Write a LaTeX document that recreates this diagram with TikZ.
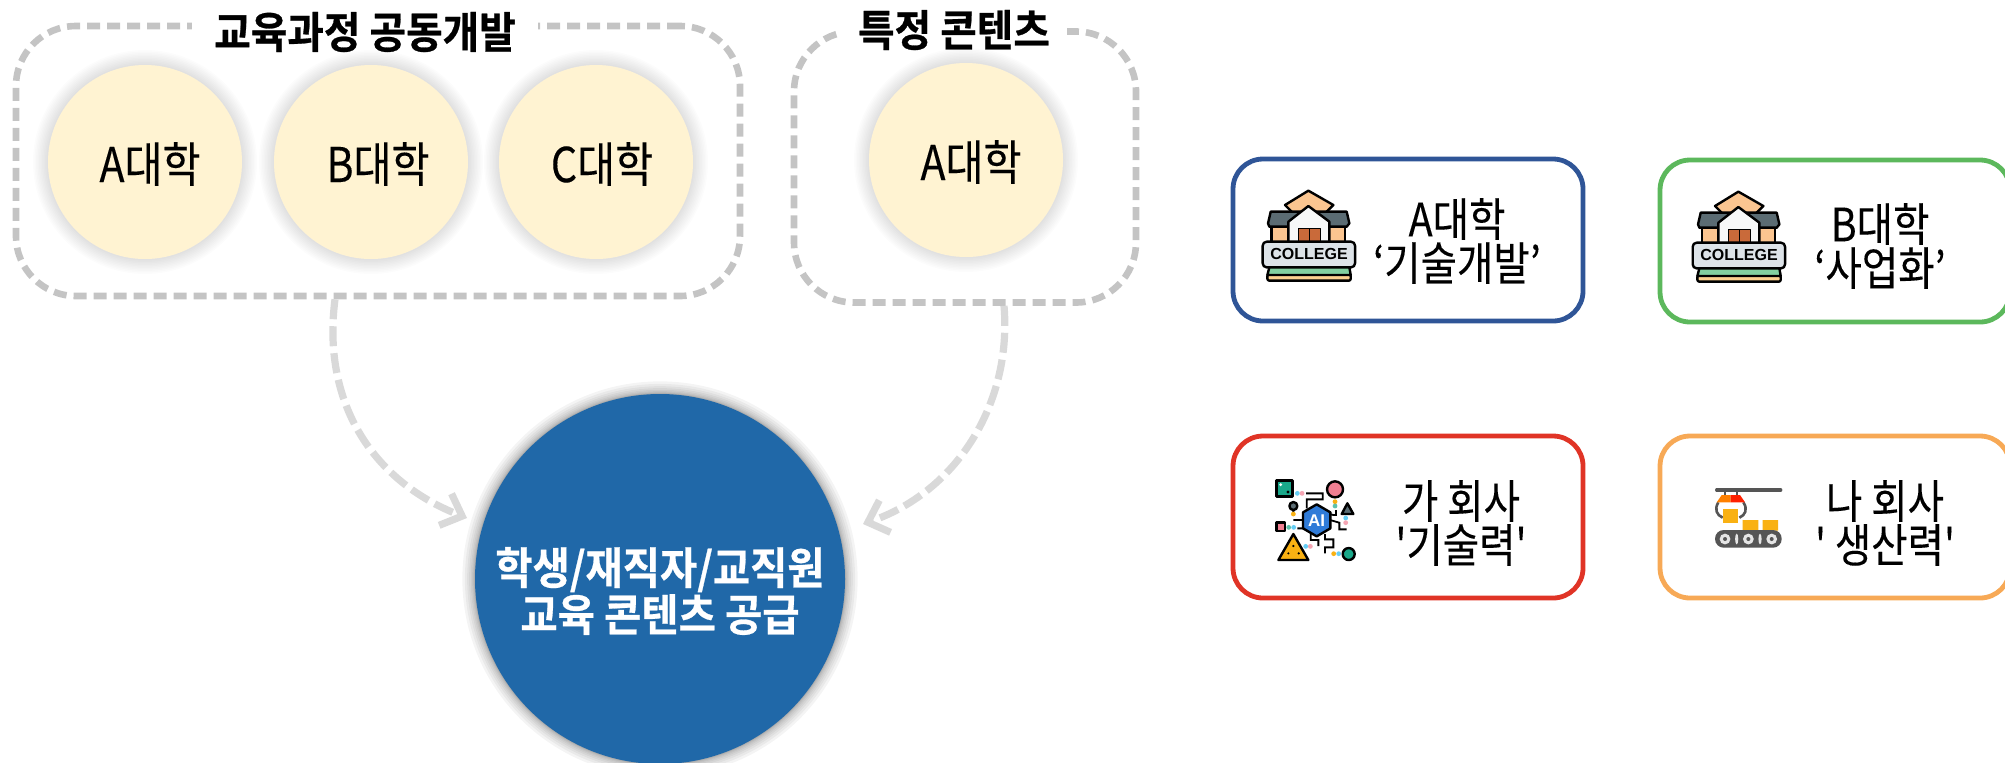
\documentclass[tikz,border=0pt]{standalone}
\usepackage{fontspec}
\usetikzlibrary{arrows.meta,calc}
\setmainfont{Liberation Sans}
\newfontfamily\krn[FakeStretch=0.86,FakeBold=0.2]{Noto Sans CJK KR}
\newfontfamily\krb[FakeStretch=0.92,FakeBold=0.6]{Noto Sans CJK KR Bold}
\definecolor{hubblue}{HTML}{2068A8}
\definecolor{cream}{HTML}{FFF3D2}
\definecolor{dashgrey}{HTML}{C4C4C4}
\definecolor{flowgrey}{HTML}{D9D9D9}
\definecolor{navy}{HTML}{2F5597}
\definecolor{leaf}{HTML}{5CB85C}
\definecolor{crimson}{HTML}{E03426}
\definecolor{amber}{HTML}{F7A956}
\definecolor{icoorange}{HTML}{FBC590}
\definecolor{icoslate}{HTML}{5B6C73}
\definecolor{icodoor}{HTML}{C96A3A}
\definecolor{icogreen}{HTML}{82CFA0}
\definecolor{icotan}{HTML}{FBD08F}
\definecolor{icoplate}{HTML}{DDE3E8}
\definecolor{icoteal}{HTML}{1AA88A}
\definecolor{icopink}{HTML}{F07F92}
\definecolor{icoyellow}{HTML}{F9B113}
\definecolor{icoblue}{HTML}{2F7BD8}
\definecolor{belt}{HTML}{555555}
\tikzset{
  groupbox/.style={draw=dashgrey,line width=3.3pt,dash pattern=on 6.5pt off 3.5pt,rounded corners=30pt,inner sep=0pt},
  grouptitle/.style={fill=white,font=\krb\fontsize{21.6}{24}\selectfont,inner sep=0pt,minimum height=16pt},
  uni/.style={circle,fill=cream,minimum size=97pt,inner sep=0pt},
  unitext/.style={font=\krn\fontsize{24}{26}\selectfont},
  hubnode/.style={circle,fill=hubblue,minimum size=185pt,inner sep=0pt},
  hubtext/.style={white,align=center,font=\krb\fontsize{22}{22}\selectfont},
  partner/.style={draw,fill=white,line width=2.4pt,rounded corners=15pt,minimum width=175pt,minimum height=81pt,inner sep=0pt},
  partnertext/.style={align=center,font=\krn\fontsize{23}{22}\selectfont},
  flow/.style={draw=flowgrey,line width=3.6pt,dash pattern=on 10pt off 3.5pt,-{Straight Barb[length=9pt,width=17pt,line width=3.6pt]}},
  ico/.style={draw=black,line width=1.2pt,line join=round},
}
\newcommand{\glow}[2]{% centre, radius
  \foreach \k in {1,...,10}{\fill[black,opacity=0.010] (#1) circle ({#2+\k*1.5});}}
\newcommand{\collegeicon}[2]{%
  \begin{scope}[shift={(#1,#2)},x=0.1667pt,y=-0.1667pt]
    \filldraw[ico,fill=icoorange] (165,45)--(235,2)--(310,45)--(285,70)--(190,70)--cycle;
    \filldraw[ico,fill=icoorange] (125,105) rectangle (345,158);
    \filldraw[ico,fill=icoslate] (122,65)--(350,65)--(358,100)--(350,110)--(118,110)--(114,100)--cycle;
    \filldraw[ico,fill=white!95!icoslate] (175,95)--(235,48)--(298,95)--(298,158)--(175,158)--cycle;
    \filldraw[ico,line width=0.5pt,fill=icodoor] (205,115) rectangle (270,158);
    \draw[black,line width=0.5pt] (237,115)--(237,158);
    \filldraw[ico,fill=icoplate,rounded corners=2pt] (98,155) rectangle (375,232);
    \node[font=\bfseries\fontsize{8}{9}\selectfont,inner sep=0pt] at (237,193) {COLLEGE};
    \filldraw[ico,fill=icotan,rounded corners=1pt] (112,253) rectangle (362,272);
    \filldraw[ico,fill=icogreen] (118,232)--(358,232)--(362,255)--(112,255)--cycle;
  \end{scope}}
\newcommand{\aiicon}[2]{%
  \begin{scope}[shift={(#1,#2)},x=0.1667pt,y=-0.1667pt]
    \draw[black,line width=0.9pt]
      (168,100)--(218,100)--(218,118)--(170,118)--(170,145)
      (130,150)--(130,158) (158,180)--(130,180)
      (160,205)--(142,205) (182,222)--(182,240)--(205,240)--(205,258)
      (225,222)--(225,238)--(250,238)--(250,262)--(225,262)--(225,280)
      (240,180)--(268,188)--(268,208)--(290,208)
      (232,160)--(250,165)--(258,165)--(258,150);
    \foreach \p/\c in {(142,100)/cyan!60,(156,100)/icopink!70,(255,125)/icoyellow,(255,138)/icoteal!70,(130,162)/icoyellow,(116,202)/icoteal!70,(131,202)/cyan!60,(167,259)/cyan!60,(181,259)/icopink!70,(251,281)/icoyellow,(266,281)/cyan!60,(287,174)/cyan!60,(287,188)/icopink!70}
      \fill[\c] \p circle (1.2pt);
    \filldraw[ico,fill=icoteal] (80,62) rectangle (128,110);
    \fill[white] (92,74) circle (0.8pt);
    \fill[black] (114,96) circle (0.8pt);
    \filldraw[ico,fill=icopink] (255,88) circle (4pt);
    \filldraw[ico,fill=icoslate] (130,138) circle (2pt);
    \filldraw[ico,fill=icoslate] (275,162)--(310,162)--(292,130)--cycle;
    \filldraw[ico,fill=icopink] (80,188) rectangle (105,213);
    \filldraw[ico,fill=icoyellow] (85,300)--(175,300)--(130,222)--cycle;
    \fill[black] (130,258) circle (0.6pt) (115,280) circle (0.6pt) (146,280) circle (0.6pt);
    \filldraw[ico,fill=icoteal] (296,282) circle (3pt);
    \filldraw[ico,fill=icoblue] (200,133)--(241,157)--(241,205)--(200,229)--(159,205)--(159,157)--cycle;
    \node[white,font=\bfseries\fontsize{8.5}{9}\selectfont,inner sep=0pt] at (200,181) {AI};
  \end{scope}}
\newcommand{\beltapp}[2]{%
  \begin{scope}[shift={(#1,#2)},x=0.1667pt,y=-0.1667pt]
    \draw[belt,line width=1.7pt,line cap=round] (80,60)--(272,60);
    \draw[belt,line width=1.2pt] (105,60)--(105,78) (140,60)--(140,78);
    \fill[icoyellow] (158,150) rectangle (205,182) (218,150) rectangle (264,182);
    \draw[belt,line width=1.3pt] (85,97) .. controls (72,118) and (80,135) .. (98,143) (160,97) .. controls (174,118) and (166,135) .. (148,143);
    \fill[icoyellow] (100,118) rectangle (145,160);
    \fill[orange] (80,97)--(95,75)--(122,75)--(122,97)--cycle;
    \fill[red!75!orange] (122,75)--(150,75)--(165,97)--(122,97)--cycle;
    \fill[belt,rounded corners=4.3pt] (75,180) rectangle (275,233);
    \foreach \x in {105,175,245}{\fill[white!90!black] (\x,207) circle (2.7pt); \fill[belt] (\x,207) circle (1pt);}
    \foreach \x in {140,210}{\fill[white!90!black] (\x,207) ellipse (0.8pt and 2.7pt);}
  \end{scope}}
\begin{document}
\begin{tikzpicture}[x=0.5pt,y=-0.5pt]
\useasboundingbox (0,0) rectangle (2005,762);
% groups
\node[groupbox,minimum width=362pt,minimum height=135pt] (lbox) at (378,161) {};
\node[groupbox,minimum width=171pt,minimum height=135.5pt] (rbox) at (965,167) {};
\node[grouptitle,minimum width=173pt] (ltitle) at (365,32) {교육과정 공동개발};
\node[grouptitle,minimum width=113pt] (rtitle) at (954,30) {특정 콘텐츠};
% small circles
\glow{145,162}{97}
\glow{371,162}{97}
\glow{596,162}{97}
\glow{966,160}{97}
\node[uni] (ua) at (145,162) {};
\node[uni] (ub) at (371,162) {};
\node[uni] (uc) at (596,162) {};
\node[uni] (ud) at (966,160) {};
\node[unitext] (ta) at (150,164) {A대학};
\node[unitext] (tb) at (378,164) {B대학};
\node[unitext] (tc) at (602,164) {C대학};
\node[unitext] (td) at (971,162) {A대학};
% hub
\foreach \k in {1,...,9}{\fill[black,opacity=0.045] (660,579) circle ({185.5+\k*\k*0.15});}
\node[hubnode] (hub) at (660,579) {};
\node[hubtext] (hubt) at (660,591) {학생/재직자/교직원\\교육 콘텐츠 공급};
% connectors
\coordinate (s1) at ($(lbox.south)+(-43,0)$);
\coordinate (e1) at ($(hub)+(-193,-61)$);
\coordinate (s2) at ($(rbox.south)+(39,0)$);
\coordinate (e2) at ($(hub)+(203,-55)$);
\draw[flow] (s1) .. controls (322,400) and (370,480) .. (e1);
\draw[flow] (s2) .. controls (1012,400) and (960,490) .. (e2);
% partner boxes
\node[partner,draw=navy] (pa) at (1408,240) {};
\node[partner,draw=leaf] (pb) at (1835,241) {};
\node[partner,draw=crimson] (pc) at (1408,517) {};
\node[partner,draw=amber] (pd) at (1835,517) {};
\collegeicon{1230}{190}
\collegeicon{1660}{191}
\aiicon{1250}{460}
\beltapp{1690}{470}
\node[partnertext] (ta1) at (1457,241) {A대학\\‘기술개발’};
\node[partnertext] (tb1) at (1880,246) {B대학\\‘사업화’};
\node[partnertext] (tc1) at (1461,523) {가 회사\\'기술력'};
\node[partnertext] (td1) at (1885,523) {나 회사\\' 생산력'};
\end{tikzpicture}
\end{document}
